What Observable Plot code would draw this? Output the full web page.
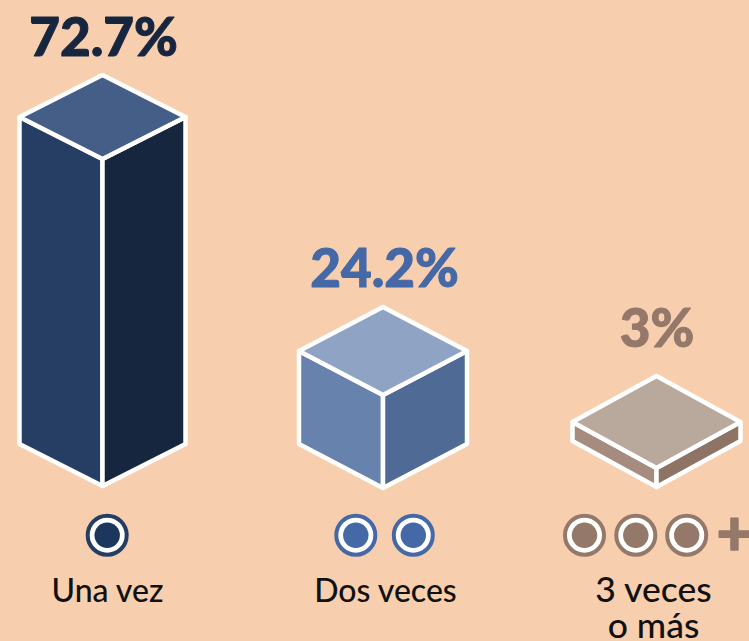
<!DOCTYPE html>
<html lang="es">
<head>
<meta charset="utf-8">
<script src="https://cdn.jsdelivr.net/npm/d3@7"></script>
<script src="https://cdn.jsdelivr.net/npm/@observablehq/plot@0.6"></script>
<style>
html,body{margin:0;padding:0;background:#f8cfae;overflow:hidden}
svg{display:block}
</style>
</head>
<body>
<div id="chart"></div>
<script>
// Data
const categories = ["Una vez", "Dos veces", "3 veces\no más"];
const percentages = [72.7, 24.2, 3];
const percentLabels = ["72.7%", "24.2%", "3%"];
const circleCounts = [1, 2, 3];

// Palettes
const textColors = ["#17263f", "#4568a6", "#94786a"];
const ringColors = ["#253d63", "#4568a6", "#94786a"];
const coreColors = ["#1c365c", "#4568a6", "#94786a"];
const topColors = ["#445e87", "#8fa4c4", "#b9a89c"];
const leftColors = ["#263e63", "#6782ad", "#a58c7e"];
const rightColors = ["#17263f", "#4e6a95", "#8d7464"];

// Layout (pixel-space scale positions)
const centers = [102.5, 383, 656.5];
const baseY = [486, 488, 487];
const halfW = [83, 84, 84];
const halfH = [42, 44, 46];
const labelX = [107, 385, 653];
const labelY = [578.5, 578.5, 575.5];
const pctX = [103, 384, 656.5];
const pctY = [55, 286, 346];
const circleX = [[106.7], [355.3, 412.8], [584, 635.3, 686.2]];
const circleY = 534.7;
// The graphic's bar height is not proportional
const barHeight = d3.scaleLinear([0, 3, 24.2, 72.7], [0, 19, 93, 327]);

const faces = [];
percentages.forEach((v, i) => {
  const cx = centers[i], b = baseY[i], w = halfW[i], h = halfH[i], t = barHeight(v);
  const l = cx - w, r = cx + w;
  const add = (name, color, pts) => pts.forEach(([x, y1, y2]) =>
    faces.push({face: `${i}-${name}`, color, x, y1, y2}));
  add("left", leftColors[i], [[l, b - h - t, b - h], [cx, b - t, b]]);
  add("right", rightColors[i], [[cx, b - t, b], [r, b - h - t, b - h]]);
  add("top", topColors[i], [
    [l, b - h - t, b - h - t],
    [cx, b - 2 * h - t, b - t],
    [r, b - h - t, b - h - t]
  ]);
});

const circles = circleX.flatMap((xs, i) => xs.map(x => ({
  x, y: circleY, ring: ringColors[i], core: coreColors[i]
})));
const pcts = percentLabels.map((text, i) => ({text, x: pctX[i], y: pctY[i], color: textColors[i]}));
const labels = categories.map((text, i) => ({text, x: labelX[i], y: labelY[i]}));

const chart = Plot.plot({
  width: 749,
  height: 641,
  margin: 0,
  style: {background: "#f8cfae", fontFamily: "Lato"},
  x: {domain: [0, 749], range: [0, 749], axis: null},
  y: {domain: [0, 641], range: [0, 641], axis: null},
  marks: [
    Plot.area(faces, {
      x1: "x", y1: "y1", y2: "y2", z: "face", fill: "color",
      stroke: "#ffffff", strokeWidth: 4.5, strokeLinejoin: "round", curve: "linear"
    }),
    Plot.text(pcts, {
      x: "x", y: "y", text: "text", fill: "color", stroke: "color", strokeWidth: 1,
      fontSize: 53, fontWeight: 900, fontFamily: "Lato", lineAnchor: "bottom"
    }),
    Plot.dot(circles, {x: "x", y: "y", r: 19.5, fill: "#ffffff", stroke: "ring", strokeWidth: 4}),
    Plot.dot(circles, {x: "x", y: "y", r: 12.7, fill: "core"}),
    Plot.text(["+"], {
      x: [734], y: [circleY], text: d => d, fill: ringColors[2], stroke: ringColors[2], strokeWidth: 1.5,
      fontSize: 62, fontWeight: 900, fontFamily: "Lato", lineAnchor: "middle"
    }),
    Plot.text(labels.slice(0, 2), {
      x: "x", y: "y", text: "text", fill: "#111111",
      fontSize: 32, fontWeight: 500, fontFamily: "Lato", lineAnchor: "top"
    }),
    Plot.text(labels.slice(2), {
      x: "x", y: "y", text: "text", fill: "#111111",
      fontSize: 35.5, fontWeight: 500, fontFamily: "Lato", lineAnchor: "top", lineHeight: 1.02
    })
  ]
});
document.getElementById("chart").append(chart);
</script>
</body>
</html>
